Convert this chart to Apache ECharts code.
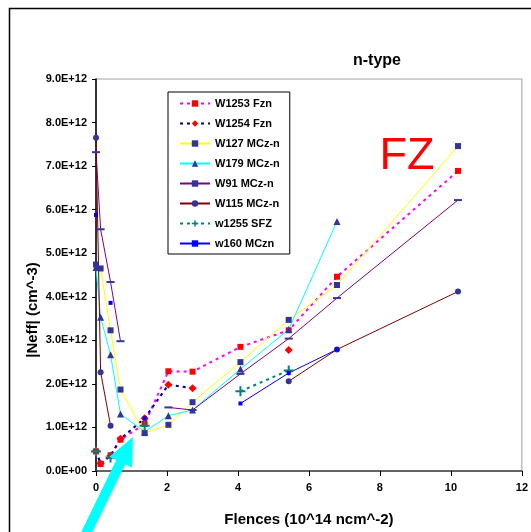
<!DOCTYPE html>
<html><head><meta charset="utf-8">
<script src="https://cdn.jsdelivr.net/npm/echarts@6/dist/echarts.min.js"></script>
<style>html,body{margin:0;padding:0;background:#fff}#c{width:531px;height:532px}</style>
</head><body><div id="c"></div><script>
// Fluence values (10^14 n/cm^2)
const fluence = [0, 0.13, 0.41, 0.69, 1.37, 2.04, 2.72, 4.07, 5.43, 6.79, 10.2];
// |Neff| in units of 1E+12 cm^-3 (null = no point)
const w1253Fzn = [0.45, 0.16, 0.36, 0.72, 1.08, 2.29, 2.28, 2.85, 3.23, 4.46, 6.89];
const w1254Fzn = [0.46, 0.17, 0.35, 0.74, 1.21, 1.98, 1.90, null, 2.78, null, null];
const w127MCz  = [4.74, 4.65, 3.23, 1.87, 0.87, 1.06, 1.58, 2.50, 3.47, 4.27, 7.46];
const w179MCz  = [4.67, 3.53, 2.67, 1.31, 0.90, 1.27, 1.40, 2.34, 3.25, 5.73, null];
const w91MCz   = [7.32, 5.55, 4.34, 2.98, null, 1.46, 1.40, 2.23, 3.04, 3.97, 6.22];
const w115MCz  = [7.65, 2.27, 1.04, null, null, null, null, null, 2.06, 2.79, 4.12];
const w1255SFZ = [0.45, null, 0.31, null, 1.04, null, null, 1.83, 2.31, null, null];
const w160MCzn = [5.88, null, 3.86, null, 1.21, null, null, 1.55, 2.25, 2.79, null];
const xTicks = {min: 0, max: 12, step: 2};
const yTicks = {min: 0, max: 9, step: 1};

function pts(arr){ return fluence.map((x,i)=>[x, arr[i]===null ? '-' : arr[i]]); }
const FONT = 'Arial, "Liberation Sans", sans-serif';
const navy = '#333399';

const chart = echarts.init(document.getElementById('c'), null, {renderer:'canvas'});

// arrow geometry (annotation)
const tip=[133,437], tail=[78,550];
const dx=tip[0]-tail[0], dy=tip[1]-tail[1], L=Math.hypot(dx,dy);
const ux=dx/L, uy=dy/L, nx=-uy, ny=ux;
const hb=[tip[0]-28*ux, tip[1]-28*uy];
const sw=5, hw=12.5;
const arrowPts=[
  tip,
  [hb[0]+hw*nx, hb[1]+hw*ny],
  [hb[0]+sw*nx, hb[1]+sw*ny],
  [tail[0]+sw*nx, tail[1]+sw*ny],
  [tail[0]-sw*nx, tail[1]-sw*ny],
  [hb[0]-sw*nx, hb[1]-sw*ny],
  [hb[0]-hw*nx, hb[1]-hw*ny]
];

function mk(name, arr, color, lw, dash, symbol, size, symColor){
  return {
    name, type:'line', data: pts(arr), connectNulls:false,
    symbol, symbolSize:size, showSymbol:true,
    lineStyle:{color, width:lw, type:dash},
    itemStyle:{color:symColor, borderColor:symColor, borderWidth:0},
    z: 3, animation:false
  };
}
const plus='path://M4,0h2v4h4v2h-4v4h-2v-4h-4v-2h4z';
const dash='path://M0,0h8v2h-8z';

const option = {
  animation:false,
  backgroundColor:'#ffffff',
  title:{text:'n-type', left:372, top:48, textAlign:'center',
    textStyle:{fontFamily:FONT, fontSize:16, fontWeight:'bold', color:'#000'}},
  grid:{left:96, right:7, top:79, bottom:56, show:true, borderColor:'#a0a0a0', borderWidth:1},
  legend:{
    orient:'vertical', left:168, top:92, itemWidth:30, itemHeight:8, itemGap:9,
    padding:[6,10,5,11], borderColor:'#000', borderWidth:1, backgroundColor:'#fff',
    textStyle:{fontFamily:FONT, fontSize:11, fontWeight:'bold', color:'#000'},
    data:['W1253 Fzn','W1254 Fzn','W127 MCz-n','W179 MCz-n','W91 MCz-n','W115 MCz-n','w1255 SFZ','w160 MCzn']
  },
  xAxis:{type:'value', min:xTicks.min, max:xTicks.max, interval:xTicks.step,
    name:'Flences (10^14 ncm^-2)', nameLocation:'middle', nameGap:41,
    nameTextStyle:{fontFamily:FONT, fontSize:15, fontWeight:'bold', color:'#000'},
    axisLine:{onZero:false, lineStyle:{color:'#404040', width:1.5}},
    axisTick:{show:true, inside:false, length:5, lineStyle:{color:'#000'}},
    axisLabel:{fontFamily:FONT, fontSize:11, fontWeight:'bold', color:'#000', margin:11},
    splitLine:{show:false}},
  yAxis:{type:'value', min:yTicks.min, max:yTicks.max, interval:yTicks.step,
    axisLine:{show:true, lineStyle:{color:'#000', width:1.5}},
    axisTick:{show:true, inside:false, length:4, lineStyle:{color:'#000'}},
    axisLabel:{fontFamily:FONT, fontSize:11, fontWeight:'bold', color:'#000', margin:9,
      formatter:v=> v===0 ? '0.0E+00' : v.toFixed(1)+'E+12'},
    splitLine:{show:false}},
  graphic:[
    {type:'rect', shape:{x:9.5, y:8.5, width:600, height:600}, style:{fill:null, stroke:'#000', lineWidth:1.5}, silent:true, z:-1},
    {type:'text', x:33, y:310, rotation:Math.PI/2,
      style:{text:'|Neff| (cm^-3)', fontFamily:FONT, fontSize:15, fontWeight:'bold', fill:'#000', align:'center', verticalAlign:'middle'}},
    {type:'text', x:407, y:157,
      style:{text:'FZ', fontFamily:FONT, fontSize:45, fill:'#ff0000', align:'center', verticalAlign:'middle'}},
    {type:'polygon', shape:{points:arrowPts}, style:{fill:'#00ffff'}, z:100}
  ],
  series:[
    mk('W1253 Fzn', w1253Fzn, '#ff00ff', 2, [3,4], 'rect', 6, '#ff0000'),
    mk('W1254 Fzn', w1254Fzn, '#000080', 2, [3,4], 'diamond', 8, '#ff0000'),
    mk('W127 MCz-n', w127MCz, '#ffff00', 1, 'solid', 'rect', 6, navy),
    mk('W179 MCz-n', w179MCz, '#00ffff', 1, 'solid', 'triangle', 7, navy),
    mk('W91 MCz-n', w91MCz, '#800080', 1, 'solid', dash, [8,2], navy),
    mk('W115 MCz-n', w115MCz, '#800000', 1, 'solid', 'circle', 6, navy),
    mk('w1255 SFZ', w1255SFZ, '#008080', 2, [3,4], plus, 10, '#008080'),
    mk('w160 MCzn', w160MCzn, '#0000ff', 1, 'solid', 'rect', 4, '#0000ff')
  ]
};
chart.setOption(option);
</script></body></html>
